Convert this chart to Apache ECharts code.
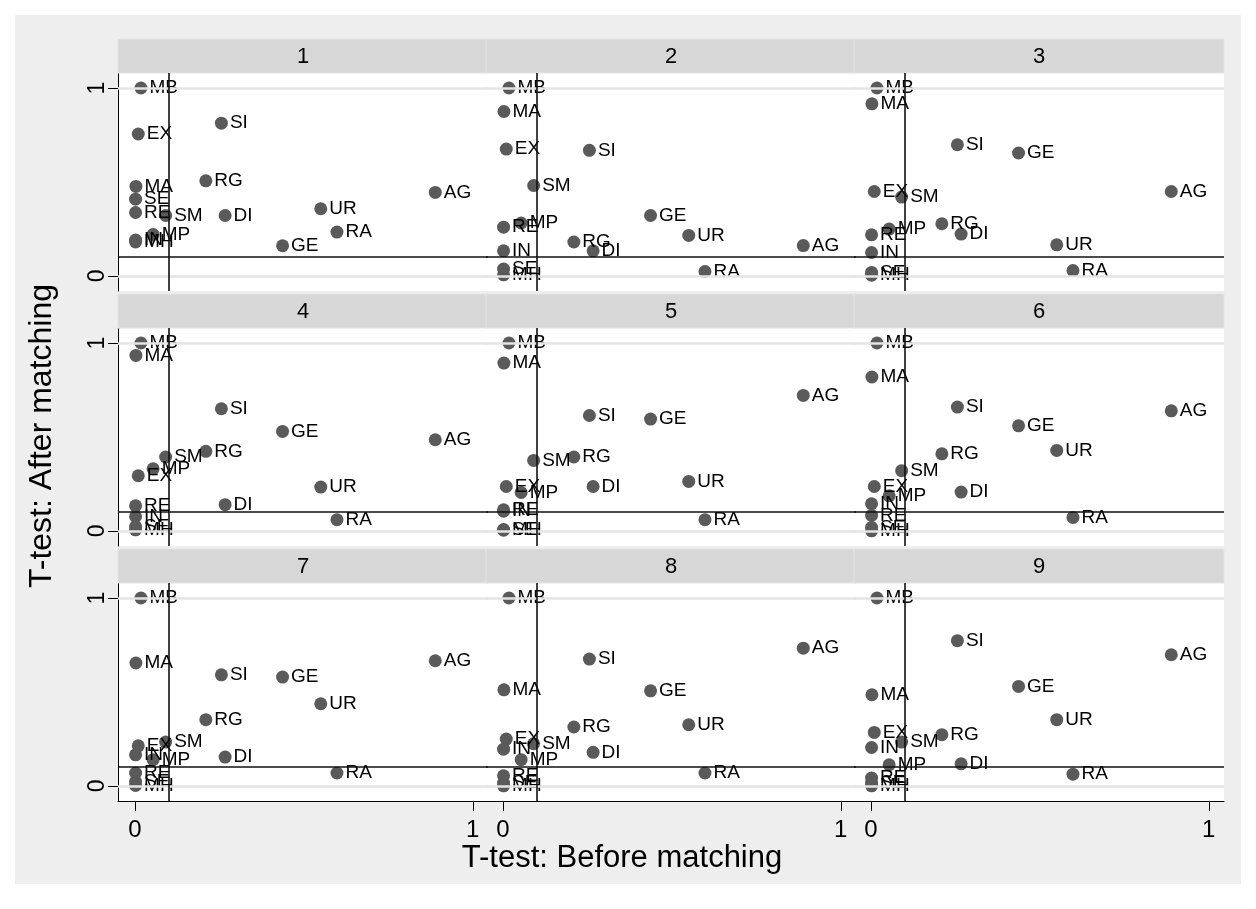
<!DOCTYPE html>
<html>
<head>
<meta charset="utf-8">
<script src="https://cdn.jsdelivr.net/npm/echarts@6/dist/echarts.min.js"></script>
<style>html,body{margin:0;padding:0;background:#fff;}#c{width:1256px;height:909px;}</style>
</head>
<body>
<div id="c"></div>
<script>
// ---- data ----
const variables = ['MB','MA','EX','SI','SE','RE','RG','SM','DI','UR','AG','GE','RA','MP','IN','MH'];
// T-test p-value before matching (same for every panel)
const beforeMatching = [0.018,0.003,0.010,0.256,0.002,0.002,0.210,0.091,0.267,0.550,0.889,0.437,0.598,0.054,0.002,0.002];
// T-test p-value after matching, one array per panel (order as variables)
const panel1 = [1.0,0.476,0.755,0.813,0.408,0.337,0.506,0.321,0.321,0.357,0.444,0.160,0.233,0.220,0.190,0.180];
const panel2 = [1.0,0.875,0.675,0.668,0.036,0.259,0.180,0.481,0.133,0.215,0.161,0.321,0.023,0.281,0.133,0.005];
const panel3 = [1.0,0.916,0.449,0.698,0.018,0.218,0.277,0.419,0.222,0.165,0.449,0.654,0.028,0.249,0.124,0.003];
const panel4 = [1.0,0.934,0.293,0.650,0.023,0.133,0.423,0.393,0.139,0.233,0.485,0.529,0.059,0.330,0.076,0.005];
const panel5 = [1.0,0.893,0.236,0.614,0.007,0.112,0.393,0.375,0.236,0.263,0.721,0.595,0.059,0.204,0.104,0.003];
const panel6 = [1.0,0.819,0.236,0.659,0.018,0.082,0.410,0.320,0.206,0.428,0.639,0.559,0.071,0.186,0.144,0.000];
const panel7 = [1.0,0.654,0.213,0.591,0.023,0.068,0.352,0.233,0.153,0.437,0.666,0.579,0.068,0.139,0.165,0.002];
const panel8 = [1.0,0.511,0.249,0.675,0.015,0.053,0.313,0.224,0.178,0.325,0.733,0.506,0.068,0.139,0.195,0.000];
const panel9 = [1.0,0.485,0.284,0.773,0.015,0.041,0.272,0.233,0.117,0.352,0.698,0.529,0.062,0.112,0.204,0.000];
const panelTitles = ['1','2','3','4','5','6','7','8','9'];
const tickValues = [0, 1];
const refValue = 0.1;
const xTitle = 'T-test: Before matching';
const yTitle = 'T-test: After matching';

const panels = [panel1,panel2,panel3,panel4,panel5,panel6,panel7,panel8,panel9];

// ---- layout ----
const FONT = '"Liberation Sans", Arial, Helvetica, sans-serif';
const colLeft = [118, 486, 854];
const rowTop = [73, 328, 583];
const gridW = 370, gridH = 218, headH = 34;
const xMin = -0.05, xMax = 1.045, yMin = -0.081, yMax = 1.08;

const grids = [], xAxes = [], yAxes = [], series = [];
const graphics = [
  {type:'rect', shape:{x:15,y:15,width:1226,height:869}, style:{fill:'#eeeeee'}, z:-10, silent:true}
];

panels.forEach((vals, i) => {
  const r = Math.floor(i / 3), c = i % 3;
  grids.push({left: colLeft[c], top: rowTop[r], width: gridW, height: gridH,
              show: true, backgroundColor: '#ffffff', borderWidth: 0});
  graphics.push({type:'rect', shape:{x: colLeft[c], y: rowTop[r]-headH, width: gridW, height: headH},
                 style:{fill:'#d7d7d7', stroke:'#e4e4e4', lineWidth:1}, z:5, silent:true});
  graphics.push({type:'text', x: colLeft[c] + gridW/2, y: rowTop[r] - headH/2 + 1, z:6, silent:true,
                 style:{text: panelTitles[i], fill:'#000', font:'22px ' + FONT, align:'center', verticalAlign:'middle'}});
  xAxes.push({
    gridIndex: i, type: 'value', min: xMin, max: xMax,
    splitLine: {show: false},
    axisLine: {show: r === 2, onZero: false, lineStyle: {color: '#000', width: 1}},
    axisTick: {show: r === 2, customValues: tickValues, length: 10, lineStyle: {color: '#000', width: 1}},
    axisLabel: {show: r === 2, customValues: tickValues, fontSize: 24, color: '#000', margin: 17, fontFamily: FONT}
  });
  yAxes.push({
    gridIndex: i, type: 'value', min: yMin, max: yMax,
    splitLine: {show: false},
    axisLine: {show: c === 0, onZero: false, lineStyle: {color: '#000', width: 1}},
    axisTick: {show: c === 0, customValues: tickValues, length: 10, lineStyle: {color: '#000', width: 1}},
    axisLabel: {show: c === 0, customValues: tickValues, rotate: 90, fontSize: 23, color: '#000', margin: 9, fontFamily: FONT}
  });
  // light grid lines at tick values
  series.push({
    type: 'scatter', xAxisIndex: i, yAxisIndex: i, data: [], z: 1, silent: true,
    markLine: {silent: true, symbol: ['none','none'], animation: false, label: {show: false},
               lineStyle: {color: '#e4e4e4', width: 2.5, type: 'solid', opacity: 1},
               data: tickValues.map(v => ({yAxis: v}))}
  });
  series.push({
    type: 'scatter', xAxisIndex: i, yAxisIndex: i, z: 3, animation: false,
    symbol: 'circle', symbolSize: 13,
    itemStyle: {color: '#5a5a5a', opacity: 1},
    label: {show: true, position: 'right', distance: 2, offset: [0, 3], formatter: '{b}',
            color: '#000', fontSize: 19, fontFamily: FONT},
    labelLayout: {hideOverlap: false},
    data: variables.map((v, k) => ({name: v, value: [beforeMatching[k], vals[k]]})),
    markLine: {silent: true, symbol: ['none','none'], animation: false, label: {show: false},
               lineStyle: {color: '#111111', width: 1.6, type: 'solid', opacity: 1},
               data: [{xAxis: refValue}, {yAxis: refValue}]}
  });
});

graphics.push({type:'text', x: 622, y: 858, z:6, silent:true,
  style:{text: xTitle, fill:'#000', font:'31px ' + FONT, align:'center', verticalAlign:'middle'}});
graphics.push({type:'text', x: 42, y: 436, rotation: Math.PI/2, z:6, silent:true,
  style:{text: yTitle, fill:'#000', font:'32px ' + FONT, align:'center', verticalAlign:'middle'}});

const chart = echarts.init(document.getElementById('c'), null, {renderer: 'canvas'});
chart.setOption({
  animation: false,
  backgroundColor: '#ffffff',
  grid: grids, xAxis: xAxes, yAxis: yAxes, series: series,
  graphic: graphics
});
</script>
</body>
</html>
